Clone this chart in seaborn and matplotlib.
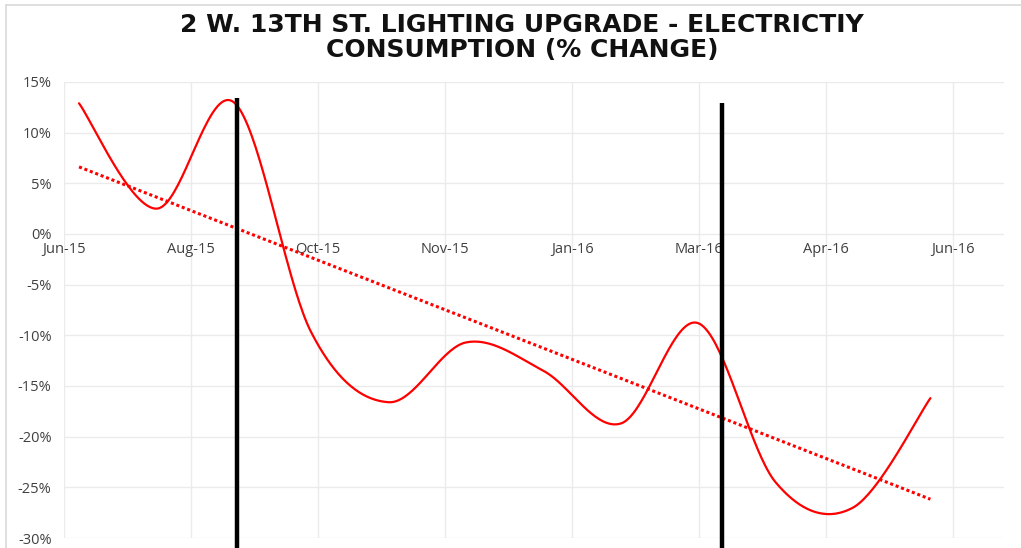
import numpy as np
import pandas as pd
import matplotlib
matplotlib.use("Agg")
import matplotlib.pyplot as plt
from matplotlib.lines import Line2D
from matplotlib.ticker import FuncFormatter
import seaborn as sns

# ---- data ----
period = list(range(12))  # monthly readings, Jun-15 .. May-16
pct_change = [12.9, 2.5, 13.0, -9.7, -16.6, -10.7, -13.5, -18.7, -8.8, -24.5, -27.0, -16.2]
tick_labels = ["Jun-15", "Aug-15", "Oct-15", "Nov-15", "Jan-16", "Mar-16", "Apr-16", "Jun-16"]
tick_start = -0.194
tick_step = 1.641
marker_x = [2.04, 8.31]      # upgrade markers (vertical black lines)
marker_top = [13.4, 12.9]

sns.set_theme(style="white")
plt.rcParams["font.family"] = ["Open Sans", "DejaVu Sans"]

fig = plt.figure(figsize=(10.21, 5.48), dpi=100)
ax = fig.add_axes([64 / 1021, 1 - 538 / 548, (1004 - 64) / 1021, (538 - 82) / 548])


def excel_smooth(xs, ys, n=40):
    P = np.column_stack([xs, ys]).astype(float)
    Pext = np.vstack([P[0], P, P[-1]])
    out = []
    t = np.linspace(0, 1, n)[:, None]
    for i in range(len(P) - 1):
        p0 = Pext[i + 1]
        p3 = Pext[i + 2]
        c1 = p0 + (Pext[i + 2] - Pext[i]) / 6.0
        c2 = p3 - (Pext[i + 3] - Pext[i + 1]) / 6.0
        seg = ((1 - t) ** 3) * p0 + 3 * ((1 - t) ** 2) * t * c1 + 3 * (1 - t) * t ** 2 * c2 + t ** 3 * p3
        out.append(seg if i == 0 else seg[1:])
    return np.vstack(out)


df = pd.DataFrame({"period": period, "pct": pct_change})
curve = excel_smooth(df["period"], df["pct"])
curve_df = pd.DataFrame({"x": curve[:, 0], "y": curve[:, 1]})

sns.lineplot(data=curve_df, x="x", y="y", sort=False, estimator=None, color="#ff0000",
             linewidth=1.6, ax=ax, zorder=3)
sns.regplot(data=df, x="period", y="pct", scatter=False, ci=None, ax=ax,
            line_kws=dict(color="#ff0000", linewidth=2.2, linestyle=(0, (1, 0.9)), zorder=3))

for mx, mt in zip(marker_x, marker_top):
    ax.plot([mx, mx], [mt, -33], color="black", linewidth=3.2, clip_on=False, zorder=4,
            solid_capstyle="butt")

ax.set_xlim(tick_start, (1004 - 79) / 77.4)
ax.set_ylim(-30, 15)
ax.set_yticks(np.arange(-30, 16, 5))
ax.yaxis.set_major_formatter(FuncFormatter(lambda v, p: f"{int(round(v))}%"))
ax.set_xticks([tick_start + tick_step * k for k in range(len(tick_labels))])
ax.set_xticklabels(tick_labels)
ax.set_xlabel("")
ax.set_ylabel("")

for s in ax.spines.values():
    s.set_visible(False)
ax.spines["bottom"].set_position(("data", 0))
ax.grid(True, color="#ebebeb", linewidth=1.0)
ax.set_axisbelow(True)
ax.tick_params(axis="both", length=0, labelsize=10.5, colors="#404040")
ax.tick_params(axis="x", pad=6)
ax.tick_params(axis="y", pad=9)

# chart border (light gray) on top and left
fig.add_artist(Line2D([6 / 1021, 6 / 1021], [-0.1, 1 - 4.5 / 548], color="#d9d9d9",
                      linewidth=1.2, transform=fig.transFigure))
fig.add_artist(Line2D([6 / 1021, 1.1], [1 - 4.5 / 548, 1 - 4.5 / 548], color="#d9d9d9",
                      linewidth=1.2, transform=fig.transFigure))

fig.text(522 / 1021, 1 - 25.5 / 548, "2 W. 13TH ST. LIGHTING UPGRADE - ELECTRICTIY",
         ha="center", va="center", fontsize=18, fontweight="bold", family="DejaVu Sans",
         color="#111111")
fig.text(522 / 1021, 1 - 50 / 548, "CONSUMPTION (% CHANGE)",
         ha="center", va="center", fontsize=18, fontweight="bold", family="DejaVu Sans",
         color="#111111")

fig.savefig("out.png", dpi=100, facecolor="white")
